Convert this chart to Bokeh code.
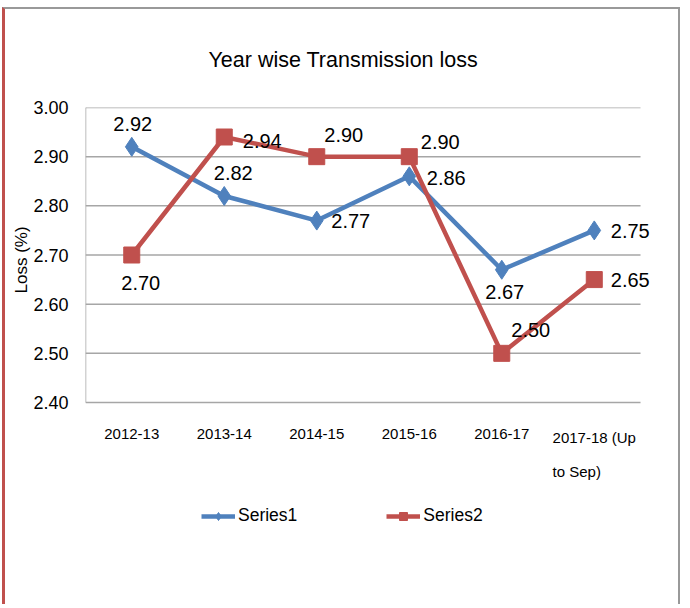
from bokeh.plotting import figure
from bokeh.models import (Range1d, FixedTicker, NumeralTickFormatter,
                          Legend, LegendItem, ColumnDataSource, Title, LabelSet)
from bokeh.embed import file_html
from bokeh.resources import INLINE
from bokeh.core.properties import value

# ---- data ----
categories = ["2012-13", "2013-14", "2014-15", "2015-16", "2016-17", "2017-18 (Up\nto Sep)"]
series1 = [2.92, 2.82, 2.77, 2.86, 2.67, 2.75]
series2 = [2.70, 2.94, 2.90, 2.90, 2.50, 2.65]
series1_labels = ["2.92", "2.82", "2.77", "2.86", "2.67", "2.75"]
series2_labels = ["2.70", "2.94", "2.90", "2.90", "2.50", "2.65"]
y_ticks = [2.4, 2.5, 2.6, 2.7, 2.8, 2.9, 3.0]

# ---- label placement (screen offsets, label centre relative to point) ----
s1_dx = [1, 9, 34, 37, 3, 36]
s1_dy = [23, 23, 0, -2, -22, -1]
s2_dx = [9, 38, 27, 31, 29, 36]
s2_dy = [-28, -4, 22, 15, 23, 0]

BLUE = "#4F81BD"
RED = "#C0504D"
GRID = "#A6A6A6"
FONT = "Liberation Sans"
RIGHT_PAD = 0.324   # room right of the last category for its data labels
BOTTOM_PAD = 0.36   # room below the value axis for category labels and legend

idx = list(range(len(categories)))
x_lo = -0.5
x_hi = len(categories) - 0.5
y_lo = y_ticks[0]
y_hi = y_ticks[-1]

p = figure(width=678, height=597, x_range=Range1d(x_lo, x_hi + RIGHT_PAD),
           y_range=Range1d(y_lo - BOTTOM_PAD, y_hi), output_backend="svg", toolbar_location=None,
           min_border_left=80, min_border_right=13, min_border_top=98, min_border_bottom=27)
p.styles = {"margin-top": "7px", "margin-left": "2px",
            "border-left": "3px solid #C0504D",
            "border-top": "2px solid #999999", "border-right": "2px solid #999999"}

p.title = Title(text="Year wise Transmission loss", text_font=FONT, text_font_size="21.5px",
                text_font_style="normal", align="left", offset=123, standoff=71, text_color="#000000")

# value-axis title, placed along the 2.40-3.00 span
p.add_layout(Title(text="Loss (%)", text_font=FONT, text_font_size="17px", text_font_style="normal",
                   text_color="#000000", align="left", offset=286, standoff=0), "left")

p.outline_line_color = None
p.background_fill_color = "white"
p.border_fill_color = "white"

# value axis
p.yaxis.ticker = FixedTicker(ticks=y_ticks)
p.yaxis.formatter = NumeralTickFormatter(format="0.00")
p.yaxis.major_label_text_font = FONT
p.yaxis.major_label_text_font_size = "18px"
p.yaxis.major_label_text_color = "#000000"
p.yaxis.major_label_standoff = 17
p.yaxis.axis_line_color = None
p.yaxis.major_tick_out = 0
p.yaxis.major_tick_in = 0
p.yaxis.major_tick_line_color = None
p.yaxis.minor_tick_line_color = None

p.xaxis.visible = False
p.xgrid.grid_line_color = None
p.ygrid.grid_line_color = None

# gridlines over the category span, and the value-axis line
p.segment(x0=[x_lo] * len(y_ticks), x1=[x_hi] * len(y_ticks), y0=y_ticks, y1=y_ticks,
          line_color=GRID, line_width=1.5)
p.segment(x0=[x_lo], x1=[x_lo], y0=[y_lo], y1=[y_hi], line_color=GRID, line_width=1.5)

# category labels
cat_src = ColumnDataSource(dict(x=idx, y=[y_lo] * len(idx), t=categories))
p.add_layout(LabelSet(x="x", y="y", text="t", source=cat_src, y_offset=-26,
                      text_font=value(FONT), text_font_size="15px", text_color="#000000",
                      text_align="center", text_baseline="top", text_line_height=2.05))

src1 = ColumnDataSource(dict(x=idx, y=series1, t=series1_labels, dx=s1_dx, dy=s1_dy))
src2 = ColumnDataSource(dict(x=idx, y=series2, t=series2_labels, dx=s2_dx, dy=s2_dy))

l1 = p.line("x", "y", source=src1, line_color=BLUE, line_width=4.5)
l2 = p.line("x", "y", source=src2, line_color=RED, line_width=4.5)
m1 = p.scatter("x", "y", source=src1, marker="diamond", size=19, fill_color=BLUE, line_color=BLUE)
m2 = p.scatter("x", "y", source=src2, marker="square", size=16, fill_color=RED, line_color=RED)

for src in (src1, src2):
    p.add_layout(LabelSet(x="x", y="y", text="t", source=src, x_offset="dx", y_offset="dy",
                          text_font=value(FONT), text_font_size="20px", text_color="#000000",
                          text_align="center", text_baseline="middle"))

legend = Legend(items=[LegendItem(label="Series1", renderers=[l1, m1]),
                       LegendItem(label="Series2", renderers=[l2, m2])],
                orientation="horizontal", location=(116, 53),
                label_text_font=FONT, label_text_font_size="17.5px", label_text_color="#000000",
                glyph_width=34, glyph_height=20, spacing=89, label_standoff=3,
                border_line_color=None, background_fill_alpha=0, margin=0, padding=5)
p.add_layout(legend)

open("out.html", "w").write(file_html(p, INLINE))
